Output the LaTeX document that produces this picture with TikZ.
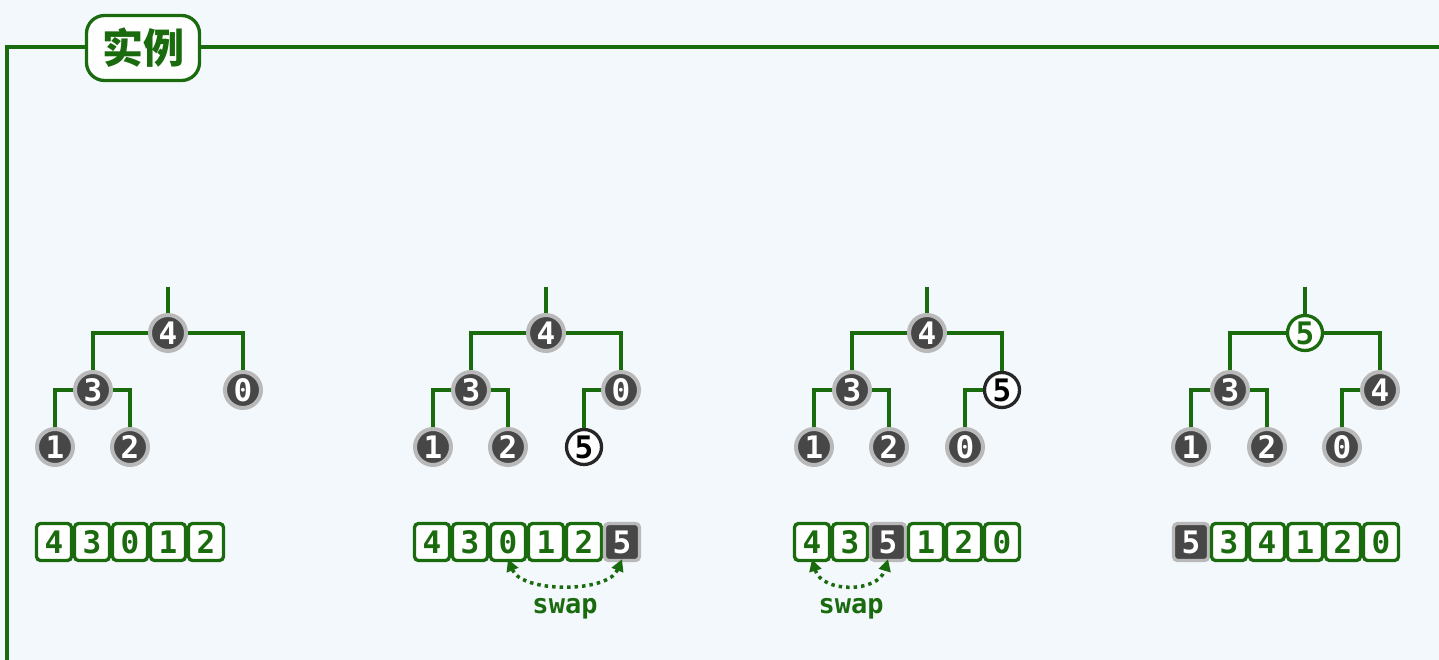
\documentclass[tikz,border=0pt]{standalone}
\usepackage{fontspec}
\usetikzlibrary{arrows.meta}
\newfontfamily\cjkfont{Noto Sans CJK SC}
\newfontfamily\monofont{DejaVu Sans Mono}
\definecolor{gr}{RGB}{26,106,14}
\definecolor{bgc}{RGB}{243,248,252}
\definecolor{dk}{RGB}{71,71,71}
\definecolor{ring}{RGB}{185,185,185}
\tikzset{
  edge/.style={draw=gr,line width=3.3pt},
  dnode/.style={circle,fill=dk,draw=ring,line width=4pt,minimum size=36pt,inner sep=0pt,text=white,font=\monofont\bfseries\fontsize{31}{31}\selectfont},
  wnode/.style={circle,fill=white,draw=black!85,line width=3.3pt,minimum size=35pt,inner sep=0pt,text=black,font=\monofont\bfseries\fontsize{31}{31}\selectfont},
  gnode/.style={circle,fill=white,draw=gr,line width=3.3pt,minimum size=35pt,inner sep=0pt,text=gr,font=\monofont\bfseries\fontsize{31}{31}\selectfont},
  cell/.style={rectangle,rounded corners=4pt,fill=white,draw=gr,line width=3.3pt,minimum width=35pt,minimum height=37pt,inner sep=0pt,text=gr,font=\monofont\bfseries\fontsize{31}{31}\selectfont},
  dcell/.style={rectangle,rounded corners=4pt,fill=dk,draw=ring,line width=3.3pt,minimum width=35pt,minimum height=37pt,inner sep=0pt,text=white,font=\monofont\bfseries\fontsize{31}{31}\selectfont},
  swaparrow/.style={draw=gr,line width=3.5pt,dash pattern=on 3.5pt off 4pt,{Triangle[length=12pt,width=12pt]}-{Triangle[length=12pt,width=12pt]}},
  swaplabel/.style={text=gr,font=\monofont\bfseries\fontsize{27}{27}\selectfont},
  titlebox/.style={rectangle,rounded corners=18pt,fill=white,draw=gr,line width=3.3pt,minimum width=113pt,minimum height=65pt,text=gr,font=\cjkfont\bfseries\fontsize{41}{41}\selectfont},
}
\begin{document}
\begin{tikzpicture}[x=1pt,y=-1pt]
\fill[bgc] (0,0) rectangle (1439,660);
\useasboundingbox (0,0) rectangle (1439,660);
% frame
\coordinate (fb) at (7,662);
\coordinate (fc) at (7,47);
\coordinate (fr) at (1441,47);
\draw[edge] (fb) -- (fc) -- (fr);
\node[titlebox] (title) at (143,48) {实例};

% ---------- tree 1 ----------
\coordinate (t1s) at (168,287);
\node[dnode] (t1r) at (168,333) {4};
\node[dnode] (t1a) at (93,390) {3};
\node[dnode] (t1b) at (243,390) {0};
\node[dnode] (t1c) at (55,447) {1};
\node[dnode] (t1d) at (130,447) {2};
\draw[edge] (t1s) -- (t1r.north);
\draw[edge] (t1r.west) -| (t1a.north);
\draw[edge] (t1r.east) -| (t1b.north);
\draw[edge] (t1a.west) -| (t1c.north);
\draw[edge] (t1a.east) -| (t1d.north);

% ---------- tree 2 ----------
\coordinate (t2s) at (546,287);
\node[dnode] (t2r) at (546,333) {4};
\node[dnode] (t2a) at (471,390) {3};
\node[dnode] (t2b) at (621,390) {0};
\node[dnode] (t2c) at (433,447) {1};
\node[dnode] (t2d) at (508,447) {2};
\node[wnode] (t2e) at (584,447) {5};
\draw[edge] (t2s) -- (t2r.north);
\draw[edge] (t2r.west) -| (t2a.north);
\draw[edge] (t2r.east) -| (t2b.north);
\draw[edge] (t2a.west) -| (t2c.north);
\draw[edge] (t2a.east) -| (t2d.north);
\draw[edge] (t2b.west) -| (t2e.north);

% ---------- tree 3 ----------
\coordinate (t3s) at (927,287);
\node[dnode] (t3r) at (927,333) {4};
\node[dnode] (t3a) at (852,390) {3};
\node[wnode] (t3b) at (1002,390) {5};
\node[dnode] (t3c) at (814,447) {1};
\node[dnode] (t3d) at (889,447) {2};
\node[dnode] (t3e) at (965,447) {0};
\draw[edge] (t3s) -- (t3r.north);
\draw[edge] (t3r.west) -| (t3a.north);
\draw[edge] (t3r.east) -| (t3b.north);
\draw[edge] (t3a.west) -| (t3c.north);
\draw[edge] (t3a.east) -| (t3d.north);
\draw[edge] (t3b.west) -| (t3e.north);

% ---------- tree 4 ----------
\coordinate (t4s) at (1305,287);
\node[gnode] (t4r) at (1305,333) {5};
\node[dnode] (t4a) at (1230,390) {3};
\node[dnode] (t4b) at (1380,390) {4};
\node[dnode] (t4c) at (1191,447) {1};
\node[dnode] (t4d) at (1267,447) {2};
\node[dnode] (t4e) at (1342,447) {0};
\draw[edge] (t4s) -- (t4r.north);
\draw[edge] (t4r.west) -| (t4a.north);
\draw[edge] (t4r.east) -| (t4b.north);
\draw[edge] (t4a.west) -| (t4c.north);
\draw[edge] (t4a.east) -| (t4d.north);
\draw[edge] (t4b.west) -| (t4e.north);

% ---------- array 1 ----------
\node[cell] (a1) at (54,542) {4};
\node[cell] (a2) at (92,542) {3};
\node[cell] (a3) at (130,542) {0};
\node[cell] (a4) at (168,542) {1};
\node[cell] (a5) at (206,542) {2};

% ---------- array 2 ----------
\node[cell] (b1) at (432,542) {4};
\node[cell] (b2) at (470,542) {3};
\node[cell] (b3) at (508,542) {0};
\node[cell] (b4) at (546,542) {1};
\node[cell] (b5) at (584,542) {2};
\node[dcell] (b6) at (622,542) {5};
\draw[swaparrow] ([yshift=3pt]b3.south) .. controls +(14,34) and +(-14,34) .. ([yshift=3pt]b6.south);
\node[swaplabel] (s2) at (565,609) {swap};

% ---------- array 3 ----------
\node[cell] (c1) at (812,542) {4};
\node[cell] (c2) at (850,542) {3};
\node[dcell] (c3) at (888,542) {5};
\node[cell] (c4) at (926,542) {1};
\node[cell] (c5) at (964,542) {2};
\node[cell] (c6) at (1002,542) {0};
\draw[swaparrow] ([yshift=3pt]c1.south) .. controls +(10,34) and +(-10,34) .. ([yshift=3pt]c3.south);
\node[swaplabel] (s3) at (851,609) {swap};

% ---------- array 4 ----------
\node[dcell] (d1) at (1191,542) {5};
\node[cell] (d2) at (1229,542) {3};
\node[cell] (d3) at (1267,542) {4};
\node[cell] (d4) at (1305,542) {1};
\node[cell] (d5) at (1343,542) {2};
\node[cell] (d6) at (1381,542) {0};
\end{tikzpicture}
\end{document}
